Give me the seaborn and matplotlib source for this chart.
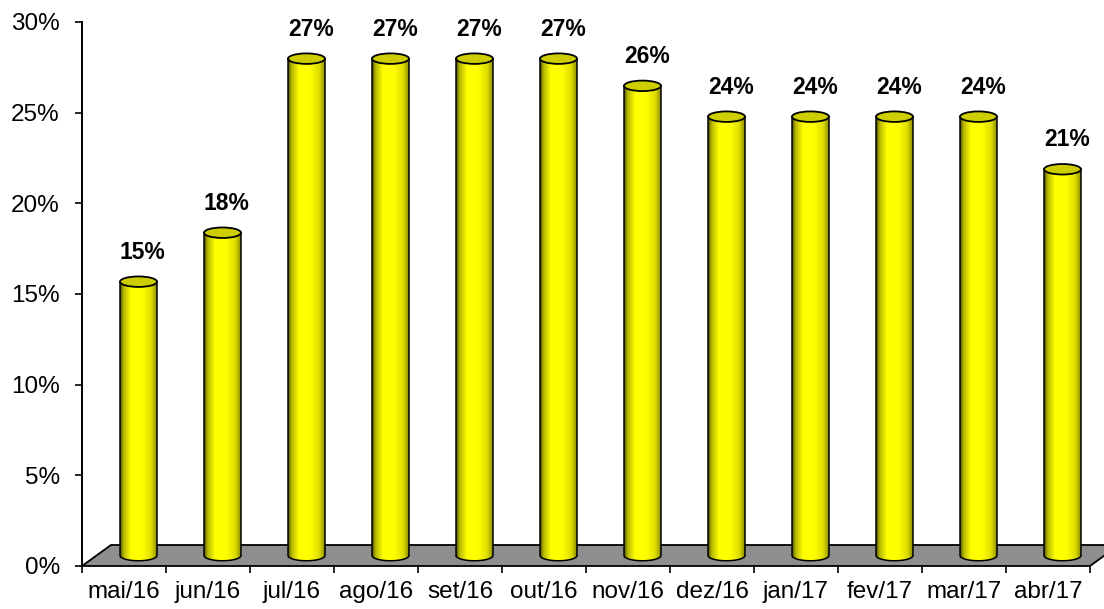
import numpy as np
import pandas as pd
import matplotlib
matplotlib.use("Agg")
import matplotlib.pyplot as plt
import matplotlib.transforms as mtransforms
from matplotlib.patches import Ellipse, PathPatch, Polygon
from matplotlib.path import Path
from matplotlib.colors import LinearSegmentedColormap
from matplotlib.ticker import PercentFormatter
import seaborn as sns

# Monthly share (%)
months = ["mai/16", "jun/16", "jul/16", "ago/16", "set/16", "out/16",
          "nov/16", "dez/16", "jan/17", "fev/17", "mar/17", "abr/17"]
share = [15.1, 17.8, 27.4, 27.4, 27.4, 27.4, 25.9, 24.2, 24.2, 24.2, 24.2, 21.3]
y_ticks = [0, 5, 10, 15, 20, 25, 30]

df = pd.DataFrame({"mes": months, "valor": share})

sns.set_theme(style="white")
plt.rcParams["font.family"] = ["Liberation Sans", "DejaVu Sans"]

W, H, DPI = 1104, 609, 100
fig = plt.figure(figsize=(W / DPI, H / DPI), dpi=DPI)
ax_w_px, ax_h_px = 1008, 544
ax = fig.add_axes([82 / W, 1 - 566 / H, ax_w_px / W, ax_h_px / H])

sns.barplot(data=df, x="mes", y="valor", color="#ffff00", width=0.44,
            saturation=1, ax=ax)
bars = list(ax.patches)

n = len(months)
ax.set_xlim(-0.5, n - 0.5)
ax.set_ylim(0, 30)

# pixel -> data conversions for the pseudo-3D depth
px_x = ax_w_px / n
px_y = ax_h_px / 30
ddx, ddy = 29 / px_x, 21 / px_y
ell_h = 10.5 / px_y

# grey floor
x_l, x_r = -0.5, n - 0.5
floor = Polygon([(x_l, 0), (x_r, 0), (x_r + ddx, ddy), (x_l + ddx, ddy)],
                closed=True, facecolor="#8e8e8e", edgecolor="black", lw=1.3,
                zorder=1, clip_on=False)
ax.add_patch(floor)

# bars stand at mid depth of the floor
offs = mtransforms.Affine2D().translate(ddx / 2, ddy / 2) + ax.transData

cyl_cmap = LinearSegmentedColormap.from_list(
    "cyl", [(0.0, "#4e4e00"), (0.10, "#b8b800"), (0.30, "#ffff00"),
            (0.60, "#ffff00"), (0.85, "#dcdc00"), (1.0, "#8c8c00")])
grad = np.linspace(0, 1, 256).reshape(1, -1)

for p, v in zip(bars, share):
    x0, w, h = p.get_x(), p.get_width(), p.get_height()
    p.set_visible(False)
    cx = x0 + w / 2
    t = np.linspace(np.pi, 2 * np.pi, 60)
    arc = np.column_stack([cx + w / 2 * np.cos(t), ell_h / 2 * np.sin(t)])
    verts = np.vstack([[(x0, h)], [(x0, 0)], arc, [(x0 + w, h)], [(x0, h)]])
    codes = [Path.MOVETO] + [Path.LINETO] * (len(verts) - 2) + [Path.CLOSEPOLY]
    body = PathPatch(Path(verts, codes), facecolor="none", edgecolor="black",
                     lw=1.1, transform=offs, zorder=4)
    ax.add_patch(body)
    im = ax.imshow(grad, cmap=cyl_cmap, extent=(x0, x0 + w, -ell_h / 2, h),
                   aspect="auto", transform=offs, zorder=3,
                   interpolation="bilinear")
    im.set_clip_path(body)
    top = Ellipse((cx, h), w, ell_h, facecolor="#cdcd00", edgecolor="black",
                  lw=1.3, transform=offs, zorder=5)
    ax.add_patch(top)
    ax.annotate(f"{v:.0f}%", xy=(cx, h), xycoords=offs, xytext=(3, 13),
                textcoords="offset points", ha="center", va="bottom",
                fontsize=16.5, fontweight="bold", color="black")

ax.set_xlim(-0.5, n - 0.5)
ax.set_ylim(0, 30)

ax.set_yticks(y_ticks)
ax.yaxis.set_major_formatter(PercentFormatter(100, decimals=0))
ax.set_xticks(range(n), months)
ax.set_xticks(np.arange(-0.5, n, 1), minor=True)
ax.set_xlabel("")
ax.set_ylabel("")

ax.tick_params(axis="y", left=True, direction="out", length=5, width=1.2,
               pad=11, labelsize=17.5, colors="black")
ax.tick_params(axis="x", which="major", bottom=True, length=0, pad=11,
               labelsize=17.5, colors="black")
ax.tick_params(axis="x", which="minor", bottom=True, length=5, width=1.2,
               direction="out", colors="black")

for side in ["top", "right", "bottom"]:
    ax.spines[side].set_visible(False)
ax.spines["left"].set_color("black")
ax.spines["left"].set_linewidth(1.4)
ax.set_facecolor("white")
fig.patch.set_facecolor("white")

fig.savefig("out.png", dpi=DPI)
